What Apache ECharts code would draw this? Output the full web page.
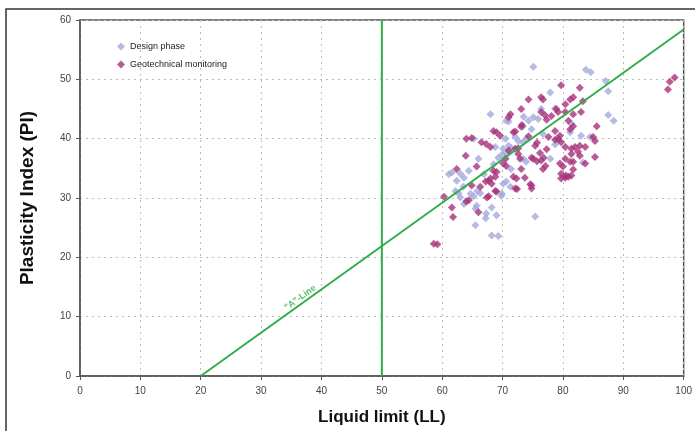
<!DOCTYPE html>
<html>
<head>
<meta charset="utf-8">
<script src="https://cdn.jsdelivr.net/npm/echarts@6/dist/echarts.min.js"></script>
<style>
  html, body { margin: 0; padding: 0; background: #fff; }
  #chart { width: 695px; height: 431px; }
</style>
</head>
<body>
<div id="chart"></div>
<script>
// [LL, PI] pairs
const designPhase = [
  [75.1, 52.1], [83.8, 51.6], [84.6, 51.2], [87.1, 49.7], [87.5, 48.0], [87.5, 44.0], [88.4, 43.0],
  [81.2, 41.1], [83.0, 40.5], [84.5, 40.3], [83.3, 36.0], [77.9, 47.8], [68.0, 44.1], [70.6, 43.0],
  [75.1, 43.6], [75.9, 43.3], [76.4, 45.0], [73.4, 42.1], [74.8, 41.6], [74.3, 43.0], [72.1, 40.3],
  [72.6, 39.6], [73.4, 39.4], [73.9, 40.0], [70.5, 40.0], [71.0, 38.8], [70.1, 38.3], [68.8, 38.6],
  [65.2, 40.0], [76.7, 40.8], [79.2, 39.6], [81.4, 42.5], [78.7, 45.1], [71.0, 42.9], [73.5, 43.7],
  [78.7, 39.0], [63.0, 34.1], [64.4, 34.6], [62.4, 32.9], [66.0, 36.6], [63.5, 31.9], [62.7, 30.8],
  [65.2, 30.3], [66.3, 30.8], [65.7, 28.7], [65.5, 28.2], [67.3, 27.4], [67.2, 26.6], [69.0, 27.1],
  [65.5, 25.4], [68.2, 23.7], [69.3, 23.6], [75.4, 26.9], [70.1, 32.4], [70.6, 32.8], [71.3, 31.9],
  [69.8, 30.4], [71.4, 34.9], [73.4, 36.6], [73.9, 36.1], [77.9, 36.6], [61.1, 34.0], [61.6, 34.3],
  [63.6, 33.4], [62.2, 31.2], [63.0, 30.1], [63.6, 29.0], [64.7, 30.7], [65.8, 31.2], [66.9, 34.0],
  [68.2, 28.4], [69.9, 30.7], [68.5, 35.7], [69.3, 36.8], [69.9, 37.3], [70.7, 37.6], [71.5, 38.4]
];

const geoMonitoring = [
  [97.4, 48.3], [97.7, 49.6], [98.5, 50.3], [79.7, 49.0], [82.8, 48.6], [80.4, 45.8], [81.2, 46.6],
  [81.7, 47.0], [83.3, 46.3], [80.4, 44.5], [81.7, 44.1], [83.0, 44.5], [81.7, 42.1], [85.6, 42.1],
  [85.0, 40.3], [85.3, 39.6], [79.2, 40.0], [79.7, 39.4], [80.4, 38.6], [81.4, 38.3], [82.0, 38.6],
  [82.8, 38.8], [83.7, 38.6], [81.4, 37.4], [82.5, 37.8], [80.4, 36.6], [81.2, 36.1], [81.7, 36.1],
  [85.3, 36.9], [79.5, 35.8], [80.0, 35.3], [79.7, 34.1], [80.4, 33.4], [80.5, 33.8], [81.7, 34.8],
  [82.8, 37.1], [83.7, 35.8], [76.4, 47.0], [76.7, 46.6], [74.3, 46.6], [73.1, 45.0], [71.3, 44.1],
  [71.0, 43.6], [76.4, 44.5], [78.1, 43.8], [78.9, 45.0], [79.2, 44.5], [68.5, 41.3], [69.0, 41.1],
  [69.6, 40.5], [71.8, 41.1], [73.1, 42.0], [64.0, 40.0], [66.5, 39.4], [67.3, 39.1], [68.0, 38.6],
  [75.4, 38.8], [77.6, 40.3], [78.7, 41.3], [79.5, 40.5], [81.2, 41.6], [80.9, 43.0], [72.1, 38.3],
  [71.0, 38.0], [77.0, 44.0], [77.3, 43.2], [73.2, 42.3], [72.1, 41.2], [64.9, 40.1], [74.3, 40.4],
  [75.7, 39.3], [78.7, 39.8], [63.9, 37.1], [62.4, 34.9], [65.7, 35.3], [64.9, 32.1], [66.3, 31.9],
  [67.2, 32.8], [68.0, 33.3], [68.2, 32.4], [68.8, 33.6], [69.0, 34.4], [68.5, 34.6], [70.1, 35.8],
  [70.6, 35.4], [70.5, 36.6], [69.0, 31.1], [64.0, 29.4], [67.7, 30.3], [71.8, 33.6], [72.3, 33.3],
  [72.1, 31.6], [73.1, 34.9], [72.6, 37.4], [72.9, 36.6], [74.8, 32.1], [74.8, 31.6], [76.4, 36.3],
  [77.1, 35.4], [76.7, 34.9], [75.1, 36.6], [79.7, 33.3], [80.9, 33.6], [81.4, 33.8], [72.6, 38.4],
  [74.8, 36.8], [76.2, 37.6], [76.8, 36.8], [75.7, 36.2], [77.3, 38.2], [73.7, 33.4], [74.6, 32.3],
  [67.7, 32.9], [72.4, 31.5], [68.8, 31.2], [60.3, 30.2], [64.4, 29.6], [67.4, 30.1], [61.6, 28.4],
  [66.0, 27.6], [61.8, 26.8], [58.6, 22.3], [59.2, 22.2]
];

// Casagrande "A"-line: PI = 0.73 (LL - 20)
const aLineLL = [20, 100];
const aLine = aLineLL.map((ll) => [ll, +(0.73 * (ll - 20)).toFixed(2)]);
const llFifty = [[50, 0], [50, 60]];
const aLineLabelAt = [[36.5, 13.2]];

const green = "#2fae48";

const chart = echarts.init(document.getElementById("chart"));
chart.setOption({
  animation: false,
  textStyle: { fontFamily: "Liberation Sans" },
  graphic: [{
    type: "rect",
    shape: { x: 6, y: 9, width: 700, height: 440 },
    style: { fill: "none", stroke: "#333", lineWidth: 1.5 },
    silent: true
  }],
  grid: { left: 80, right: 9, top: 20, bottom: 52, show: true, borderColor: "#555", borderWidth: 1.5 },
  legend: {
    orient: "vertical",
    left: 112,
    top: 37,
    itemGap: 9,
    itemWidth: 8,
    itemHeight: 8,
    textStyle: { fontSize: 9, color: "#222", fontFamily: "Liberation Sans Narrow, Liberation Sans" },
    data: ["Design phase", "Geotechnical monitoring"]
  },
  xAxis: {
    type: "value",
    min: 0, max: 100, interval: 10,
    name: "Liquid limit (LL)",
    nameLocation: "middle",
    nameGap: 33,
    nameTextStyle: { fontSize: 17, fontWeight: "bold", color: "#111" },
    axisLine: { lineStyle: { color: "#555", width: 1.5 } },
    axisTick: { show: true, length: 4, lineStyle: { color: "#555" } },
    axisLabel: { color: "#444", fontSize: 10, margin: 10 },
    splitLine: { lineStyle: { color: "#bbb", type: [2, 4], width: 1 } }
  },
  yAxis: {
    type: "value",
    min: 0, max: 60, interval: 10,
    name: "Plasticity Index (PI)",
    nameLocation: "middle",
    nameGap: 43,
    nameTextStyle: { fontSize: 19, fontWeight: "bold", color: "#111" },
    axisLine: { show: true, lineStyle: { color: "#555", width: 1.5 } },
    axisTick: { show: true, length: 4, lineStyle: { color: "#555" } },
    axisLabel: { color: "#444", fontSize: 10, margin: 9 },
    splitLine: { lineStyle: { color: "#bbb", type: [2, 4], width: 1 } }
  },
  series: [
    {
      name: "A-line",
      type: "line",
      data: aLine,
      symbol: "none",
      lineStyle: { color: green, width: 2 },
      z: 3,
      silent: true
    },
    {
      name: "LL50",
      type: "line",
      data: llFifty,
      symbol: "none",
      lineStyle: { color: green, width: 2 },
      z: 3,
      silent: true
    },
    {
      name: "Design phase",
      type: "scatter",
      data: designPhase,
      symbol: "diamond",
      symbolSize: 8,
      itemStyle: { color: "#a3aadb" },
      z: 2
    },
    {
      name: "Geotechnical monitoring",
      type: "scatter",
      data: geoMonitoring,
      symbol: "diamond",
      symbolSize: 8,
      itemStyle: { color: "#a8327a" },
      z: 2
    },
    {
      name: "label",
      type: "scatter",
      data: aLineLabelAt,
      symbolSize: 0,
      silent: true,
      label: {
        show: true,
        formatter: '"A"-Line',
        rotate: 36,
        color: green,
        fontSize: 9,
        fontWeight: "bold",
        position: "inside"
      }
    }
  ]
});
</script>
</body>
</html>
